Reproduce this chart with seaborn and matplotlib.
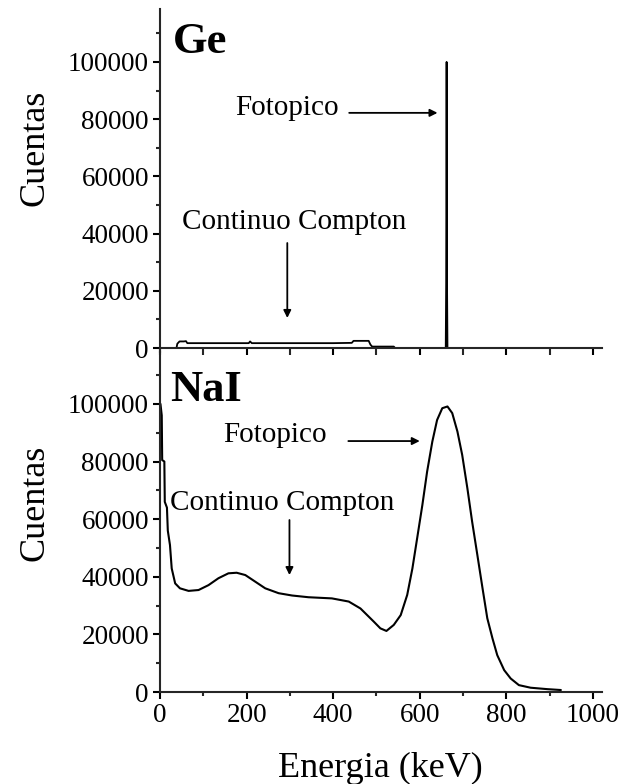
import numpy as np
import pandas as pd
import matplotlib
matplotlib.use('Agg')
import matplotlib.pyplot as plt
import seaborn as sns
from matplotlib.ticker import MultipleLocator

# ---- data ----
# Ge (HPGe) spectrum: flat low Compton continuum and a very narrow photopeak at 662 keV
ge_energy = [0, 38, 40, 45, 55, 60, 63, 70, 150, 205, 208, 212, 300, 400, 443, 447,
             482, 486, 490, 540, 543, 655, 660, 661, 662, 663, 664, 666, 700, 1000]
ge_counts = [0, 0, 1500, 2300, 2300, 2400, 1700, 1700, 1700, 1700, 2300, 1700, 1700, 1700, 1800, 2500,
             2500, 1200, 500, 500, 0, 0, 0, 22700, 100000, 22700, 0, 0, 0, 0]

# NaI spectrum: low-energy spike, Compton continuum with backscatter bump, wide photopeak
nai_energy = [1, 4, 5, 10, 11, 16, 18, 23, 27, 35, 46, 66, 89, 112, 135, 158, 177, 197, 220,
              243, 274, 305, 343, 397, 436, 463, 494, 509, 523, 540, 556, 571, 583, 594, 606,
              617, 629, 640, 652, 664, 675, 687, 698, 710, 721, 733, 745, 756, 768, 779, 795,
              810, 829, 856, 895, 926]
nai_counts = [100000, 96000, 80500, 80000, 66000, 64000, 56000, 51000, 42900, 37700, 36000, 35100,
              35400, 37100, 39500, 41200, 41400, 40600, 38300, 36000, 34300, 33500, 32900, 32500,
              31400, 29000, 24400, 22100, 21200, 23300, 26700, 33700, 42900, 53400, 64900, 76500,
              86900, 94400, 98500, 99100, 96800, 90400, 82300, 70700, 59100, 47600, 36000, 25600,
              18600, 12800, 7600, 4700, 2400, 1500, 1000, 700]

ge_df = pd.DataFrame({'Energia': ge_energy, 'Cuentas': ge_counts})
nai_df = pd.DataFrame({'Energia': nai_energy, 'Cuentas': nai_counts})

sns.set_style("ticks")
plt.rcParams['font.family'] = ['Liberation Serif', 'DejaVu Serif']
plt.rcParams['text.color'] = 'black'
plt.rcParams['axes.linewidth'] = 1.5

fig = plt.figure(figsize=(6.29, 7.84), dpi=100)
ax_ge = fig.add_axes([0.2544, 0.551, 0.7027, 0.4375])
ax_nai = fig.add_axes([0.2544, 0.1173, 0.7027, 0.4337])

sns.lineplot(data=ge_df, x='Energia', y='Cuentas', ax=ax_ge, color='black', lw=1.3,
             sort=False, estimator=None)
sns.lineplot(data=nai_df, x='Energia', y='Cuentas', ax=ax_nai, color='black', lw=1.5,
             sort=False, estimator=None)

for ax in (ax_ge, ax_nai):
    ax.set_xlim(0, 1021)
    ax.xaxis.set_major_locator(MultipleLocator(200))
    ax.xaxis.set_minor_locator(MultipleLocator(100))
    ax.yaxis.set_major_locator(MultipleLocator(20000))
    ax.yaxis.set_minor_locator(MultipleLocator(10000))
    ax.tick_params(axis='both', which='major', direction='out', length=5, width=1.5,
                   labelsize=19.5, pad=3, colors='black')
    ax.tick_params(axis='both', which='minor', direction='out', length=3, width=1.5)
    ax.spines['top'].set_visible(False)
    ax.spines['right'].set_visible(False)
    ax.set_xlabel('')
    ax.set_ylabel('')
    ax.patch.set_alpha(0)

ax_ge.set_ylim(-1400, 118500)
ax_ge.spines['bottom'].set_position(('data', 0))
ax_ge.tick_params(axis='x', which='both', labelbottom=False, length=5)
ax_nai.set_ylim(0, 118000)

arrow_kw = dict(arrowstyle='-|>', color='black', lw=1.3, mutation_scale=11, shrinkA=0, shrinkB=0)

# Ge annotations
ax_ge.text(30, 107000, 'Ge', fontsize=32, fontweight='bold', ha='left', va='center')
ax_ge.text(174, 84000, 'Fotopico', fontsize=21, ha='left', va='center')
ax_ge.annotate('', xy=(641, 82200), xytext=(437, 82200), arrowprops=arrow_kw)
ax_ge.text(51, 44000, 'Continuo Compton', fontsize=21, ha='left', va='center')
ax_ge.annotate('', xy=(294, 10500), xytext=(294, 36700), arrowprops=arrow_kw)

# NaI annotations
ax_nai.text(23, 104800, 'NaI', fontsize=32, fontweight='bold', ha='left', va='center')
ax_nai.text(146, 89200, 'Fotopico', fontsize=21, ha='left', va='center')
ax_nai.annotate('', xy=(600, 87100), xytext=(435, 87100), arrowprops=arrow_kw)
ax_nai.text(23, 65600, 'Continuo Compton', fontsize=21, ha='left', va='center')
ax_nai.annotate('', xy=(299, 40600), xytext=(299, 59700), arrowprops=arrow_kw)

fig.text(0.0556, 0.811, 'Cuentas', fontsize=26, rotation=90, ha='center', va='center')
fig.text(0.0556, 0.358, 'Cuentas', fontsize=26, rotation=90, ha='center', va='center')
fig.text(0.604, 0.020, 'Energia (keV)', fontsize=26, ha='center', va='center')

fig.savefig('out.png', dpi=100)
